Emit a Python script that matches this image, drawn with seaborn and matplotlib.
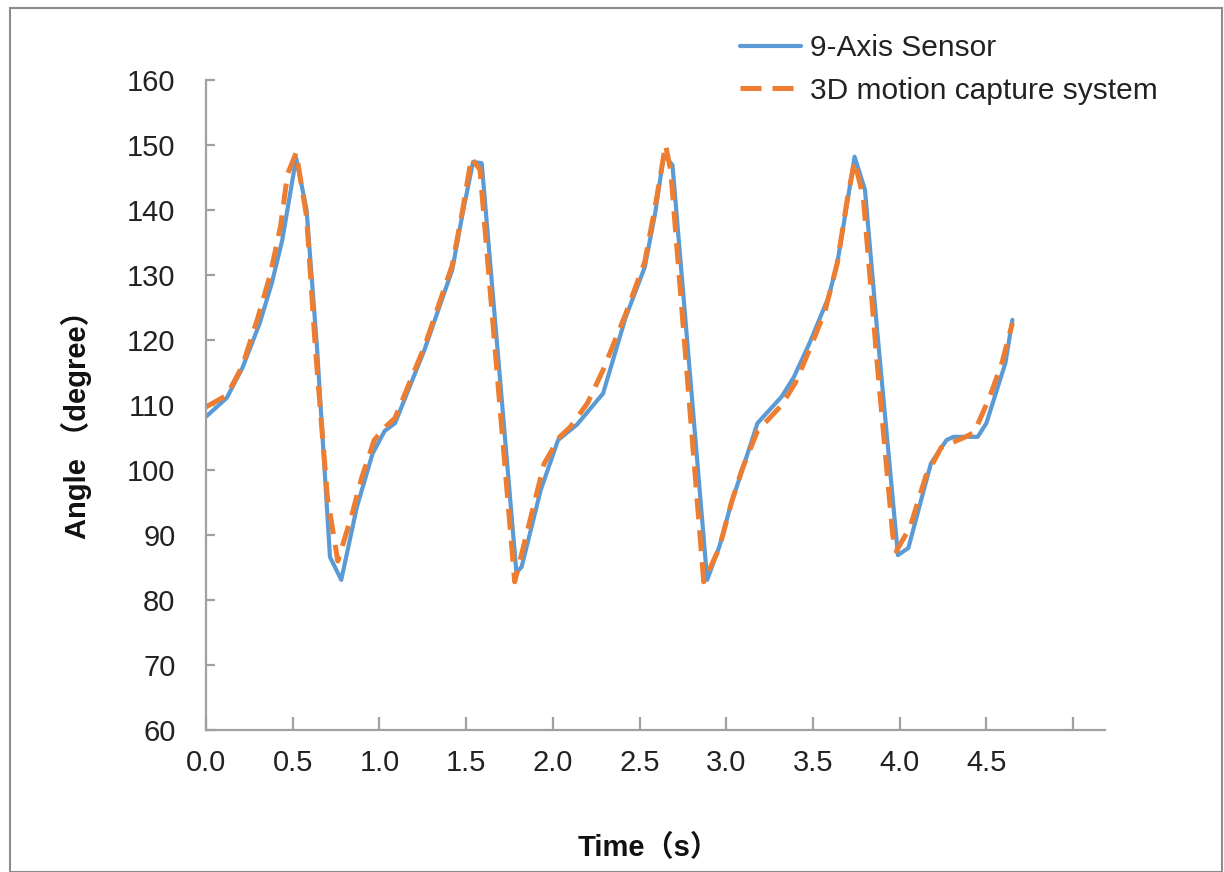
import matplotlib
matplotlib.use("Agg")
import matplotlib.pyplot as plt
from matplotlib import font_manager
from matplotlib.patches import Rectangle
import seaborn as sns
import pandas as pd

# ---- data ----
sensor_t = [0.00, 0.12, 0.21, 0.31, 0.38, 0.44, 0.52, 0.58, 0.64, 0.715, 0.78, 0.87, 0.96,
            1.03, 1.09, 1.26, 1.42, 1.48, 1.54, 1.59, 1.79, 1.82, 1.93, 2.03, 2.14, 2.29,
            2.42, 2.53, 2.59, 2.64, 2.69, 2.89, 2.96, 3.03, 3.08, 3.18, 3.32, 3.39, 3.48,
            3.59, 3.64, 3.70, 3.74, 3.80, 3.87, 3.99, 4.05, 4.18, 4.27, 4.31, 4.45, 4.50,
            4.61, 4.65]
sensor_v = [108.2, 111.1, 115.7, 122.6, 128.8, 135.4, 148.0, 140.0, 118.9, 86.6, 83.1, 94.3,
            102.5, 106.0, 107.2, 118.5, 130.8, 139.5, 147.4, 147.2, 84.2, 85.1, 96.9, 104.6,
            107.0, 111.8, 123.5, 131.2, 139.5, 148.5, 146.9, 83.1, 88.2, 95.0, 99.0, 107.2,
            111.3, 114.3, 119.5, 126.6, 131.8, 141.5, 148.2, 143.1, 121.5, 86.9, 88.0, 101.0,
            104.6, 105.1, 105.1, 107.2, 116.5, 123.1]

mocap_t = [0.00, 0.12, 0.21, 0.30, 0.37, 0.43, 0.47, 0.52, 0.58, 0.63, 0.70, 0.76, 0.84,
           0.90, 0.97, 1.03, 1.09, 1.26, 1.42, 1.48, 1.53, 1.58, 1.78, 1.84, 1.95, 2.04,
           2.10, 2.20, 2.29, 2.42, 2.53, 2.59, 2.65, 2.68, 2.87, 2.96, 3.03, 3.09, 3.18,
           3.32, 3.40, 3.48, 3.57, 3.64, 3.70, 3.74, 3.79, 3.87, 3.96, 3.98, 4.06, 4.15,
           4.24, 4.38, 4.43, 4.52, 4.59, 4.65]
mocap_v = [109.7, 111.5, 116.0, 123.5, 130.0, 137.5, 145.5, 148.8, 139.0, 119.0, 95.8, 86.0,
           93.0, 99.0, 104.6, 106.5, 108.0, 119.0, 131.5, 140.0, 148.0, 146.2, 82.8, 89.2,
           101.0, 105.1, 106.6, 110.3, 115.4, 124.0, 132.0, 140.5, 150.0, 146.0, 82.8, 88.0,
           95.0, 100.0, 106.0, 110.0, 113.5, 118.5, 124.5, 131.8, 142.0, 147.5, 142.0, 116.5,
           90.0, 87.5, 91.2, 99.0, 103.5, 105.1, 105.8, 111.3, 116.5, 122.6]

series_names = ["9-Axis Sensor", "3D motion capture system"]
x_ticks = [0.0, 0.5, 1.0, 1.5, 2.0, 2.5, 3.0, 3.5, 4.0, 4.5, 5.0]
x_tick_labels = ["0.0", "0.5", "1.0", "1.5", "2.0", "2.5", "3.0", "3.5", "4.0", "4.5", ""]
y_ticks = [60, 70, 80, 90, 100, 110, 120, 130, 140, 150, 160]

# ---- style ----
sns.set_theme(style="white")
available = {f.name for f in font_manager.fontManager.ttflist}
narrow = "Liberation Sans Narrow" if "Liberation Sans Narrow" in available else "Liberation Sans"
plt.rcParams["font.family"] = [narrow, "Noto Sans CJK SC", "DejaVu Sans"]

BLUE = "#5B9BD5"
ORANGE = "#ED7D31"
AXIS_GRAY = "#A0A0A0"

df_s = pd.DataFrame({"t": sensor_t, "v": sensor_v})
df_m = pd.DataFrame({"t": mocap_t, "v": mocap_v})

fig = plt.figure(figsize=(12.24, 8.72), dpi=100)
ax = fig.add_axes([206 / 1224, 1 - 730 / 872, (1105 - 206) / 1224, (730 - 80) / 872])

sns.lineplot(data=df_s, x="t", y="v", ax=ax, color=BLUE, linewidth=3.0,
             label=series_names[0], sort=False)
sns.lineplot(data=df_m, x="t", y="v", ax=ax, color=ORANGE, linewidth=3.6,
             label=series_names[1], sort=False, dashes=False)
ax.lines[1].set_dashes((4.2, 2.2))

ax.set_xlim(0, 5.184)
ax.set_ylim(60, 160)
ax.set_xticks(x_ticks)
ax.set_xticklabels(x_tick_labels)
ax.set_yticks(y_ticks)

for side in ["top", "right"]:
    ax.spines[side].set_visible(False)
for side in ["left", "bottom"]:
    ax.spines[side].set_color(AXIS_GRAY)
    ax.spines[side].set_linewidth(1.6)

ax.tick_params(axis="y", direction="in", length=6.5, width=1.6, color=AXIS_GRAY,
               labelsize=21, pad=22, labelcolor="#222222", left=True)
ax.tick_params(axis="x", direction="in", length=9.5, width=1.6, color=AXIS_GRAY,
               labelsize=21, pad=14, labelcolor="#222222", bottom=True)

label_font = ["Liberation Sans", "Noto Sans CJK SC", "DejaVu Sans"]
ax.set_ylabel("Angle （degree）", fontsize=21, fontweight="bold", family=label_font,
              color="#111111")
ax.yaxis.set_label_coords(-0.127, 0.48)
ax.set_xlabel("Time（s）", fontsize=21, fontweight="bold", family=label_font,
              color="#111111")
ax.xaxis.set_label_coords(0.492, -0.160)

leg = ax.legend(loc="upper left", bbox_to_anchor=(740 / 1224, 1 - 34 / 872),
                bbox_transform=fig.transFigure, frameon=False, fontsize=21.5,
                borderaxespad=0, borderpad=0, handlelength=2.05, handletextpad=0.3,
                labelspacing=0.5)
for txt in leg.get_texts():
    txt.set_color("#222222")

fig.patches.append(Rectangle((10 / 1224, 0), (1222 - 10) / 1224, (872 - 8) / 872,
                             transform=fig.transFigure, fill=False,
                             edgecolor="#8C8C8C", linewidth=1.5))

fig.savefig("out.png", dpi=100, facecolor="white")
